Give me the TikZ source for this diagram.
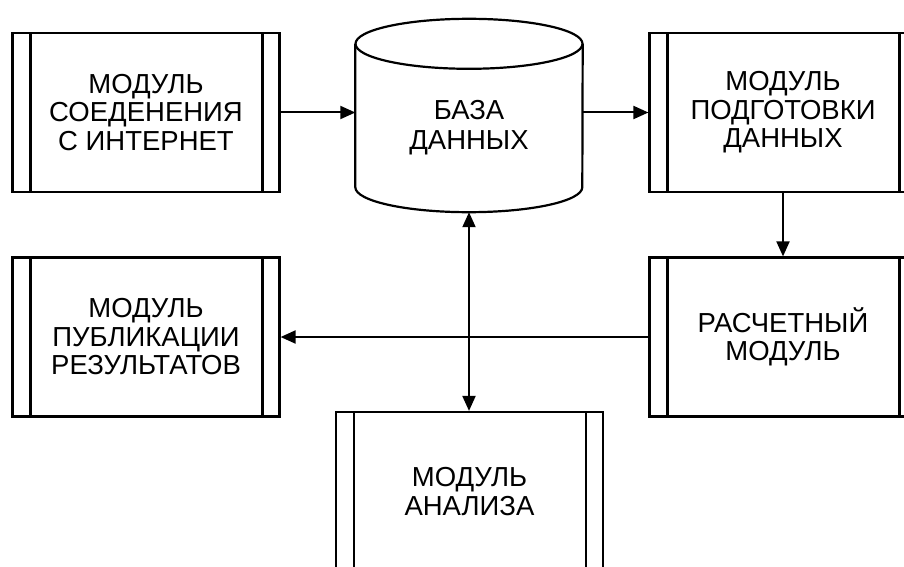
\documentclass[tikz,border=0pt]{standalone}
\usepackage{fontspec}
\setmainfont{Liberation Sans}
\usetikzlibrary{arrows.meta}

\tikzset{
	>={Triangle[length=15pt,width=13pt]},
	module/.style={draw, line width=2.2pt, minimum width=267pt, minimum height=159pt,
		inner sep=0pt, align=center, font=\fontsize{27.5}{28.5}\selectfont,
		path picture={
			\draw[line width=2.2pt]
			([xshift=18pt]path picture bounding box.north west) -- ([xshift=18pt]path picture bounding box.south west)
			([xshift=-17pt]path picture bounding box.north east) -- ([xshift=-17pt]path picture bounding box.south east);
		}},
	store/.style={minimum width=227pt, minimum height=118pt, inner sep=0pt,
		align=center, font=\fontsize{27.5}{30}\selectfont},
	conn/.style={line width=2pt, ->},
}

\begin{document}
\begin{tikzpicture}[x=1pt,y=-1pt]
	\useasboundingbox (0,0) rectangle (904,567);
	\clip (0,0) rectangle (904,567);
	% modules
	\node[module] (inet) at (146,112.5) {МОДУЛЬ\\СОЕДЕНЕНИЯ\\С ИНТЕРНЕТ};
	\node[module] (prep) at (783,112.5) {МОДУЛЬ\\ПОДГОТОВКИ\\ДАННЫХ};
	\node[module] (calc) at (783,337) {РАСЧЕТНЫЙ\\МОДУЛЬ};
	\node[module] (pub) at (146,337) {МОДУЛЬ\\ПУБЛИКАЦИИ\\РЕЗУЛЬТАТОВ};
	\node[module] (anal) at (469.5,491.5) {МОДУЛЬ\\АНАЛИЗА};
	% database
	\node[store] (db) at (469,128) {БАЗА\\ДАННЫХ};
	\draw[line width=2.2pt] ([yshift=25pt]db.north) ellipse [x radius=113.5pt, y radius=25pt];
	\draw[line width=2.2pt] ([yshift=25pt]db.north west) -- (db.south west)
		arc[start angle=180, end angle=360, x radius=113.5pt, y radius=25pt]
		-- ([yshift=25pt]db.north east);
	\coordinate (dbbot) at ([yshift=-25pt]db.south);
	% links
	\path[conn]
	(inet.east) edge (inet.east -| db.west)
	(db.east |- prep.west) edge (prep.west)
	(prep.south) edge (calc.north)
	(calc.west) edge (pub.east)
	(dbbot) edge[<->] (dbbot |- anal.north);
\end{tikzpicture}
\end{document}
